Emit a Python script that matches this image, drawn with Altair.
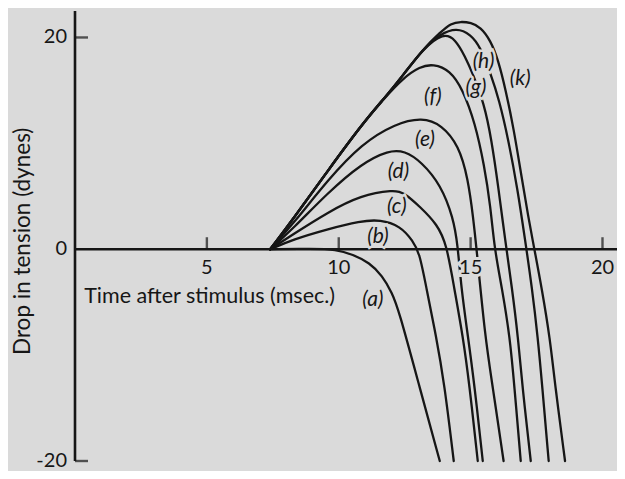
import altair as alt
import pandas as pd

# ---- data: time after stimulus (msec) vs drop in tension (dynes)
a_t = [7.4, 9.0, 9.9, 10.53, 11.17, 11.65, 12.02, 12.27, 13.02, 13.83]
a_y = [0.0, 0.05, 0.0, -0.5, -1.27, -2.5, -4.1, -5.7, -12.6, -20.0]

b_t = [7.4, 8.27, 9.56, 10.82, 11.58, 12.33, 12.81, 13.07, 13.31, 13.69, 14.0, 14.36]
b_y = [0.0, 0.93, 1.89, 2.67, 2.8, 2.2, 0.8, -0.42, -3.5, -8.2, -12.6, -20.0]

c_t = [7.4, 8.26, 9.58, 10.84, 12.09, 12.45, 13.10, 13.73, 14.09, 14.37, 14.71, 14.95, 15.27]
c_y = [0.0, 1.39, 3.48, 5.1, 5.6, 5.4, 3.97, 2.36, 0.47, -3.57, -8.26, -12.7, -20.0]

d_t = [7.4, 8.27, 9.59, 10.86, 11.89, 12.5, 13.13, 13.87, 14.34, 14.51, 14.64, 14.9, 15.14, 15.46]
d_y = [0.0, 1.95, 5.35, 8.09, 9.35, 9.3, 8.27, 6.08, 2.98, 0.45, -3.58, -8.26, -12.7, -20.0]

e_t = [7.4, 8.28, 9.59, 10.87, 12.14, 13.16, 13.91, 14.55, 14.9, 15.1, 15.23, 15.55, 15.82, 16.25]
e_y = [0.0, 2.42, 6.56, 9.96, 11.85, 12.45, 11.75, 9.79, 6.69, 2.94, -0.06, -8.3, -12.7, -20.0]

f_t = [7.4, 8.28, 9.61, 10.89, 11.78, 12.44, 13.08, 13.58, 14.22, 14.7, 15.17, 15.52, 15.75, 15.91, 16.19, 16.49, 16.65, 16.9]
f_y = [0.0, 2.89, 7.5, 11.83, 14.41, 16.16, 17.25, 17.5, 16.9, 15.11, 11.92, 7.88, 4.13, -0.08, -3.65, -8.34, -12.7, -20.0]

g_t = [7.4, 8.28, 9.61, 10.89, 11.78, 12.44, 13.2, 13.97, 14.42, 14.79, 15.08, 15.51, 15.79, 16.06, 16.3, 16.57, 16.8, 16.95, 17.28]
g_y = [0.0, 2.89, 7.5, 11.83, 14.41, 16.44, 18.93, 20.45, 19.85, 18.2, 16.6, 13.77, 10.39, 5.7, 1.02, -3.66, -8.36, -12.7, -20.0]

h_t = [7.4, 8.28, 9.61, 10.89, 11.78, 12.44, 13.2, 13.86, 14.47, 15.0, 15.37, 15.76, 16.08, 16.43, 16.78, 17.06, 17.33, 17.55, 17.71, 17.96]
h_y = [0.0, 2.89, 7.5, 11.83, 14.41, 16.44, 18.93, 20.35, 20.9, 20.3, 19.1, 16.56, 14.12, 10.36, 5.67, 0.98, -3.7, -8.4, -12.8, -20.0]

k_t = [7.4, 8.28, 9.61, 10.89, 11.78, 12.44, 13.2, 13.86, 14.25, 14.63, 15.01, 15.38, 15.75, 16.05, 16.33, 16.64, 16.91, 17.18, 17.43, 17.7, 18.01, 18.2, 18.58]
k_y = [0.0, 2.89, 7.5, 11.83, 14.41, 16.44, 18.93, 20.5, 21.35, 21.5, 21.4, 20.97, 19.74, 17.86, 15.04, 11.29, 7.16, 3.12, -0.16, -3.73, -8.42, -12.8, -20.0]

curve_names = ["a", "b", "c", "d", "e", "f", "g", "h", "k"]
curve_t = [a_t, b_t, c_t, d_t, e_t, f_t, g_t, h_t, k_t]
curve_y = [a_y, b_y, c_y, d_y, e_y, f_y, g_y, h_y, k_y]

# curve labels
label_text = ["(a)", "(b)", "(c)", "(d)", "(e)", "(f)", "(g)", "(h)", "(k)"]
label_t = [11.29, 11.49, 12.2, 12.26, 13.27, 13.57, 15.2, 15.49, 16.88]
label_y = [-4.83, 1.15, 3.95, 7.25, 10.35, 14.35, 15.19, 17.7, 16.04]

# axes
x_ticks = [5, 10, 15, 20]
y_ticks = [20, -20]
y_tick_labels = [20, 0, -20]
x_range = [0, 20.55]
y_range = [-20, 22.5]

x_title = "Time after stimulus (msec.)"
y_title = "Drop in tension (dynes)"

# ---- tables
rows = []
for name, ts, ys in zip(curve_names, curve_t, curve_y):
    for i, (t, y) in enumerate(zip(ts, ys)):
        rows.append({"curve": name, "i": i, "t": t, "y": y})
curves = pd.DataFrame(rows)

labels = pd.DataFrame({"text": label_text, "t": label_t, "y": label_y})
xaxis = pd.DataFrame({"t": [x_range[0]], "t2": [x_range[1]], "y": [0]})
yaxis = pd.DataFrame({"t": [0], "y": [y_range[0]], "y2": [y_range[1]]})
xt = pd.DataFrame({"t": x_ticks, "y": [0] * len(x_ticks), "lab": [str(v) for v in x_ticks]})
yt = pd.DataFrame({"t": [0] * len(y_ticks), "y": y_ticks})
ytl = pd.DataFrame({"t": [0] * len(y_tick_labels), "y": y_tick_labels,
                    "lab": [str(v) for v in y_tick_labels]})
xtitle = pd.DataFrame({"t": [0.35], "y": [-4.55], "lab": [x_title]})
ytitle = pd.DataFrame({"t": [-1.97], "y": [0.75], "lab": [y_title]})

BG = "#dadada"
INK = "#161616"
FONT = "Lato"

xs = alt.Scale(domain=x_range, nice=False, zero=False)
ys = alt.Scale(domain=y_range, nice=False, zero=False)
X = alt.X("t:Q", scale=xs, axis=None)
Y = alt.Y("y:Q", scale=ys, axis=None)

lines = alt.Chart(curves).mark_line(
    interpolate="basis", color=INK, strokeWidth=2.3, strokeCap="round"
).encode(x=X, y=Y, detail="curve:N", order="i:Q")

xaxis_l = alt.Chart(xaxis).mark_rule(color=INK, strokeWidth=2.6).encode(
    x=X, x2="t2:Q", y=Y)
yaxis_l = alt.Chart(yaxis).mark_rule(color=INK, strokeWidth=2.6).encode(
    x=X, y=Y, y2="y2:Q")

xticks_l = alt.Chart(xt).mark_tick(
    orient="vertical", size=12, thickness=2.4, yOffset=-6, color=INK
).encode(x=X, y=Y)
yticks_l = alt.Chart(yt).mark_tick(
    orient="horizontal", size=13, thickness=2.4, xOffset=6.5, color=INK
).encode(x=X, y=Y)

TICK_FS = 20
xtl_halo = alt.Chart(xt).mark_text(
    font=FONT, fontSize=TICK_FS, dy=19, baseline="middle", align="center",
    color=BG, stroke=BG, strokeWidth=6
).encode(x=X, y=Y, text="lab:N")
xtl = alt.Chart(xt).mark_text(
    font=FONT, fontSize=TICK_FS, dy=19, baseline="middle", align="center", color=INK
).encode(x=X, y=Y, text="lab:N")
ytl_l = alt.Chart(ytl).mark_text(
    font=FONT, fontSize=TICK_FS, dx=-8, baseline="middle", align="right", color=INK
).encode(x=X, y=Y, text="lab:N")

LAB_FS = 21
lab_halo = alt.Chart(labels).mark_text(
    font=FONT, fontSize=LAB_FS, fontStyle="italic", baseline="middle", align="center",
    color=BG, stroke=BG, strokeWidth=5
).encode(x=X, y=Y, text="text:N")
lab_l = alt.Chart(labels).mark_text(
    font=FONT, fontSize=LAB_FS, fontStyle="italic", baseline="middle", align="center",
    color=INK
).encode(x=X, y=Y, text="text:N")

xtitle_l = alt.Chart(xtitle).mark_text(
    font=FONT, fontSize=21.5, baseline="middle", align="left", color=INK
).encode(x=X, y=Y, text="lab:N")
ytitle_l = alt.Chart(ytitle).mark_text(
    font=FONT, fontSize=22.5, baseline="middle", align="center", angle=270, color=INK
).encode(x=X, y=Y, text="lab:N")

chart = alt.layer(
    lines, xaxis_l, yaxis_l, xticks_l, yticks_l,
    xtl_halo, xtl, ytl_l, lab_halo, lab_l, xtitle_l, ytitle_l
).properties(
    width=542, height=450,
    padding={"left": 67, "top": 3, "right": 0, "bottom": 10},
    autosize=alt.AutoSizeParams(type="none"),
    background=BG,
).configure_view(stroke=None)

chart.save("out.html", embed_options={"renderer": "svg", "actions": False})
